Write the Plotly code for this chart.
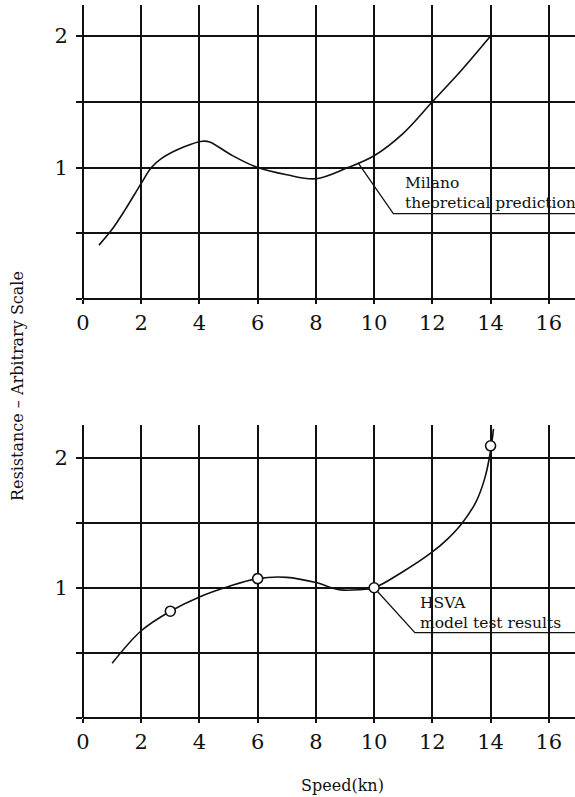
import plotly.graph_objects as go

# Speed axis ticks (kn)
speed_ticks = [0, 2, 4, 6, 8, 10, 12, 14, 16]
res_ticks = [0, 0.5, 1, 1.5, 2]
res_tick_text = ["", "", "1", "", "2"]

# Milano theoretical prediction
milano_speed = [0.55, 1.0, 1.45, 2.0, 2.35, 2.7, 3.5, 4.1, 4.35, 5.1, 6.0, 7.0, 8.0, 9.1, 10.0, 11.0, 12.0, 13.0, 14.0]
milano_res = [0.41, 0.53, 0.68, 0.88, 1.0, 1.07, 1.16, 1.2, 1.195, 1.095, 1.0, 0.945, 0.915, 1.0, 1.09, 1.26, 1.5, 1.74, 2.0]

# HSVA model test results: faired curve and test points
hsva_speed = [1.0, 2.0, 3.0, 4.0, 5.0, 6.0, 7.0, 8.0, 8.8, 9.5, 10.0, 11.0, 12.0, 12.5, 13.0, 13.5, 13.8, 14.0, 14.1]
hsva_res = [0.42, 0.67, 0.82, 0.93, 1.01, 1.07, 1.08, 1.04, 0.985, 0.985, 1.0, 1.125, 1.275, 1.37, 1.49, 1.66, 1.84, 2.05, 2.22]
hsva_test_speed = [3, 6, 10, 14]
hsva_test_res = [0.82, 1.07, 1.00, 2.09]

# Label leader lines
milano_leader_x = [9.45, 10.66, 16.9]
milano_leader_y = [1.035, 0.65, 0.65]
hsva_leader_x = [10.0, 11.4, 16.9]
hsva_leader_y = [1.00, 0.655, 0.655]

FONT = "DejaVu Serif"
INK = "#111111"

fig = go.Figure()

fig.add_trace(go.Scatter(x=milano_speed, y=milano_res, mode="lines",
                         line=dict(color=INK, width=1.6, shape="spline", smoothing=1.0),
                         xaxis="x", yaxis="y", hoverinfo="skip"))
fig.add_trace(go.Scatter(x=milano_leader_x, y=milano_leader_y, mode="lines",
                         line=dict(color=INK, width=1.3),
                         xaxis="x", yaxis="y", hoverinfo="skip"))

fig.add_trace(go.Scatter(x=hsva_speed, y=hsva_res, mode="lines",
                         line=dict(color=INK, width=1.6, shape="spline", smoothing=1.0),
                         xaxis="x2", yaxis="y2", hoverinfo="skip"))
fig.add_trace(go.Scatter(x=hsva_leader_x, y=hsva_leader_y, mode="lines",
                         line=dict(color=INK, width=1.3),
                         xaxis="x2", yaxis="y2", hoverinfo="skip"))
fig.add_trace(go.Scatter(x=hsva_test_speed, y=hsva_test_res, mode="markers",
                         marker=dict(symbol="circle", size=10, color="white",
                                     line=dict(color=INK, width=1.6)),
                         xaxis="x2", yaxis="y2", hoverinfo="skip"))

xcommon = dict(range=[0, 16.9], tickvals=speed_ticks, showgrid=True, gridcolor=INK,
               gridwidth=1.6, zeroline=True, zerolinecolor=INK, zerolinewidth=1.6,
               ticks="outside", ticklen=4, tickwidth=1.6, tickcolor=INK,
               ticklabelstandoff=1, showline=False, automargin=False,
               tickfont=dict(family=FONT, size=21, color=INK), fixedrange=True)
ycommon = dict(tickvals=res_ticks, ticktext=res_tick_text, showgrid=True, gridcolor=INK,
               gridwidth=1.6, zeroline=True, zerolinecolor=INK, zerolinewidth=1.6,
               ticks="outside", ticklen=6, tickwidth=1.6, tickcolor=INK,
               ticklabelstandoff=4, showline=False, automargin=False,
               tickfont=dict(family=FONT, size=21, color=INK), fixedrange=True)

fig.update_layout(
    width=575, height=797,
    margin=dict(l=83, r=0, t=0, b=0),
    paper_bgcolor="white", plot_bgcolor="white",
    showlegend=False,
    font=dict(family=FONT, color=INK),
    xaxis=dict(xcommon, domain=[0, 1], anchor="y"),
    yaxis=dict(ycommon, domain=[0.6248, 0.9937], range=[0, 2.236], anchor="x"),
    xaxis2=dict(xcommon, domain=[0, 1], anchor="y2"),
    yaxis2=dict(ycommon, domain=[0.0991, 0.4668], range=[0, 2.25], anchor="x2"),
)

ann_font = dict(family=FONT, size=15.5, color=INK)
fig.add_annotation(x=10.99, y=0.81, xref="x", yref="y",
                   text="Milano<br>theoretical prediction", align="left",
                   showarrow=False, xanchor="left", yanchor="middle", font=ann_font)
fig.add_annotation(x=11.5, y=0.804, xref="x2", yref="y2",
                   text="HSVA<br>model test results", align="left",
                   showarrow=False, xanchor="left", yanchor="middle", font=ann_font)

# Axis titles (paper x is measured across the plotting width, which starts 83 px in)
plot_w = 575 - 83
fig.add_annotation(x=(17 - 83) / plot_w, y=1 - 386 / 797, xref="paper", yref="paper",
                   text="Resistance – Arbitrary Scale", textangle=-90, showarrow=False,
                   xanchor="center", yanchor="middle", font=dict(family=FONT, size=16, color=INK))
fig.add_annotation(x=(342 - 83) / plot_w, y=1 - 785 / 797, xref="paper", yref="paper",
                   text="Speed(kn)", showarrow=False,
                   xanchor="center", yanchor="middle", font=dict(family=FONT, size=16, color=INK))

fig.write_html("out.html")
